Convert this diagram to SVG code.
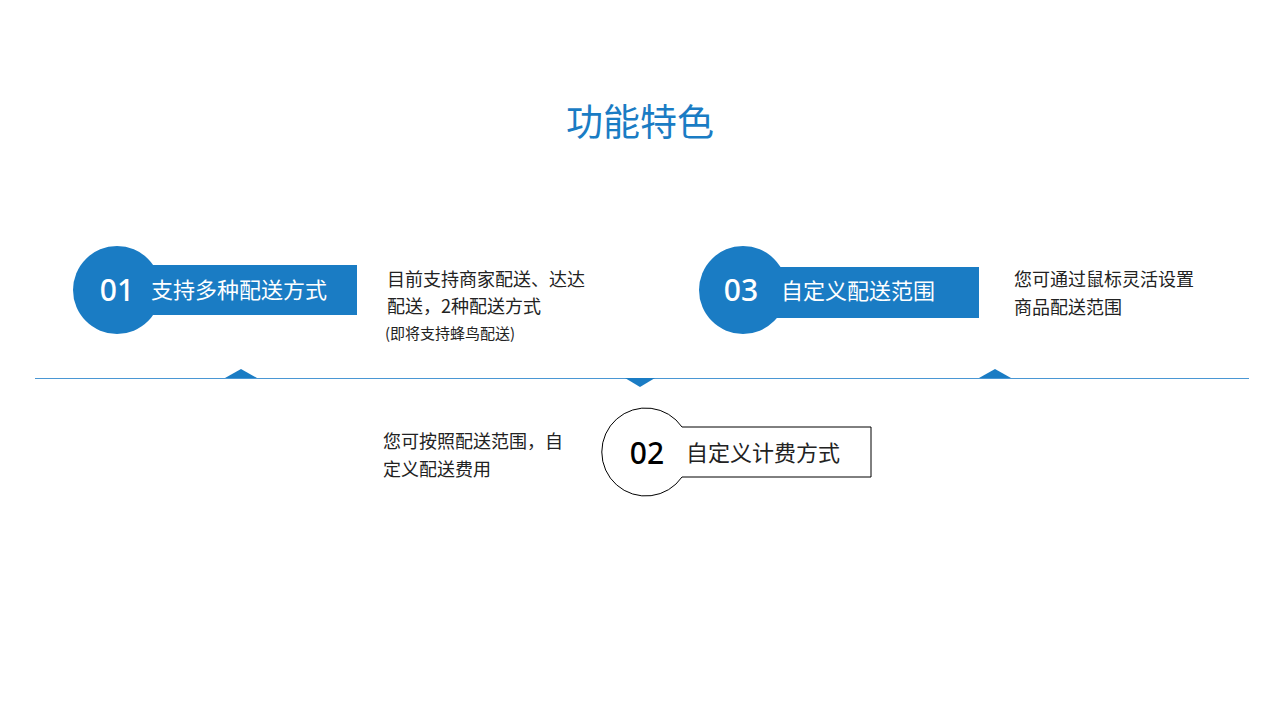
<svg xmlns="http://www.w3.org/2000/svg" width="1280" height="720" viewBox="0 0 1280 720">
<style>
text{font-family:"Noto Sans CJK SC","Noto Sans",sans-serif}
.blue{fill:#1a7cc4}
.num{font-family:"Noto Sans","Noto Sans CJK SC",sans-serif;font-size:30px;font-weight:500}
.lbl{font-size:22px}
.desc{font-size:18px;fill:#222}
</style>
<rect width="1280" height="720" fill="#fff"/>
<text x="640" y="136" text-anchor="middle" font-size="37" fill="#1a7cc4">功能特色</text>
<g id="connectors">
<line x1="35" y1="378.5" x2="1249" y2="378.5" stroke="#4a97d4" stroke-width="1.2"/>
<polygon class="blue" points="225,378 241,369 257,378"/>
<polygon class="blue" points="625,378 655,378 640,387"/>
<polygon class="blue" points="979,378 995,369 1011,378"/>
</g>
<g id="node01">
<circle class="blue" cx="117" cy="290" r="44"/>
<rect class="blue" x="140" y="265" width="217" height="50"/>
<text class="num" x="117" y="301" text-anchor="middle" fill="#fff">01</text>
<text class="lbl" x="151" y="298" fill="#fff">支持多种配送方式</text>
<text class="desc" x="387" y="286">目前支持商家配送、达达</text>
<text class="desc" x="387" y="313">配送，2种配送方式</text>
<text x="385" y="339" font-size="15" fill="#222">(即将支持蜂鸟配送)</text>
</g>
<g id="node02">
<path d="M682,427 H871 V477 H682 A44,44 0 1,1 682,427 Z" fill="#fff" stroke="#000" stroke-width="1"/>
<text class="num" x="647" y="464" text-anchor="middle" fill="#000">02</text>
<text class="lbl" x="686" y="461" fill="#222">自定义计费方式</text>
<text class="desc" x="383" y="448">您可按照配送范围，自</text>
<text class="desc" x="383" y="476">定义配送费用</text>
</g>
<g id="node03">
<circle class="blue" cx="743" cy="290" r="44"/>
<rect class="blue" x="766" y="267" width="213" height="51"/>
<text class="num" x="741" y="301" text-anchor="middle" fill="#fff">03</text>
<text class="lbl" x="781" y="299" fill="#fff">自定义配送范围</text>
<text class="desc" x="1014" y="286">您可通过鼠标灵活设置</text>
<text class="desc" x="1014" y="314">商品配送范围</text>
</g>
</svg>
